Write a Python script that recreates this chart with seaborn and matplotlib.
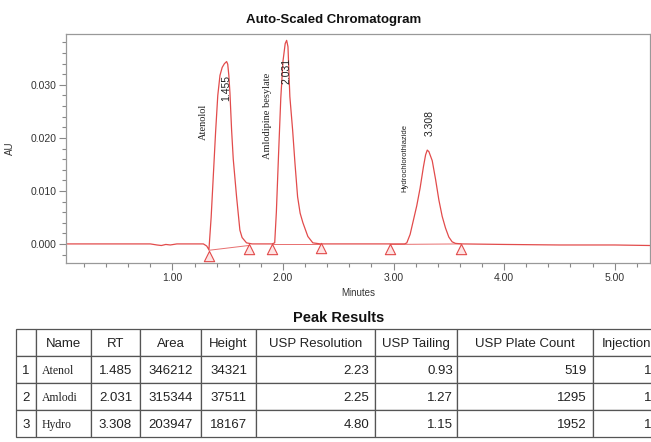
import matplotlib
matplotlib.use('Agg')
import pandas as pd
import matplotlib.pyplot as plt
import seaborn as sns
from matplotlib.ticker import MultipleLocator, FormatStrFormatter

# chromatogram trace (minutes, AU)
time_min = [0.04, 0.30, 0.60, 0.80, 0.86, 0.90, 0.94, 0.98, 1.04, 1.20, 1.28, 1.31, 1.33,
            1.35, 1.37, 1.39, 1.41, 1.43, 1.45, 1.47, 1.49, 1.50, 1.51, 1.52, 1.535, 1.55,
            1.58, 1.61, 1.63, 1.67, 1.72, 1.80, 1.90, 1.925, 1.94, 1.96, 1.98, 2.00, 2.02,
            2.033, 2.045, 2.062, 2.087, 2.108, 2.132, 2.155, 2.18, 2.225, 2.27, 2.34, 2.60,
            2.90, 3.10, 3.12, 3.15, 3.18, 3.21, 3.24, 3.27, 3.29, 3.305, 3.32, 3.35, 3.38,
            3.41, 3.44, 3.47, 3.50, 3.53, 3.56, 3.62, 4.00, 4.50, 5.00, 5.32]
au = [0.0, 0.0, 0.0, 0.0, -0.0002, -0.0003, -0.0001, -0.0002, 0.0, 0.0, 0.0, -0.0004, -0.0011,
      0.005, 0.013, 0.021, 0.028, 0.0318, 0.0333, 0.0340, 0.0344, 0.0339, 0.0318, 0.0285,
      0.0215, 0.0160, 0.0089, 0.0026, 0.0012, 0.0002, 0.0, 0.0, 0.0, 0.0002, 0.006, 0.017,
      0.0275, 0.0345, 0.0378, 0.0384, 0.0372, 0.0278, 0.0215, 0.0153, 0.0089, 0.0058,
      0.0040, 0.0014, 0.0002, 0.0, 0.0, 0.0, 0.0, 0.0002, 0.0018, 0.0045, 0.0072, 0.0105,
      0.0145, 0.0168, 0.0177, 0.0174, 0.0157, 0.0122, 0.0083, 0.0052, 0.0030, 0.0013,
      0.0004, 0.0001, 0.0, -0.0001, -0.0002, -0.0002, -0.0003]

# integration start / end markers
mark_t = [1.33, 1.69, 1.90, 2.34, 2.97, 3.61]
mark_au = [-0.0023, -0.0010, -0.0010, -0.0008, -0.0009, -0.0009]

# integration baselines per peak
base_t0 = [1.33, 1.90, 2.97]
base_au0 = [-0.0012, 0.0, -0.0001]
base_t1 = [1.69, 2.34, 3.61]
base_au1 = [-0.0003, 0.0, 0.0]

peak_names = ['Atenolol', 'Amlodipine besylate', 'Hydrochlorothiazide']
peak_rt = ['1.455', '2.031', '3.308']

# peak results table
tbl_names = ['Atenol', 'Amlodi', 'Hydro']
tbl_rt = ['1.485', '2.031', '3.308']
tbl_area = [346212, 315344, 203947]
tbl_height = [34321, 37511, 18167]
tbl_res = [2.23, 2.25, 4.80]
tbl_tail = [0.93, 1.27, 1.15]
tbl_plates = [519, 1295, 1952]
tbl_inj = [1, 1, 1]

sns.set_theme(style='white')
plt.rcParams['font.family'] = ['Liberation Sans', 'DejaVu Sans']
serif = ['Liberation Serif', 'DejaVu Serif']

W, H = 651, 442
fig = plt.figure(figsize=(W / 100, H / 100), dpi=100)
ax = fig.add_axes([66 / W, 1 - 263 / H, (650 - 66) / W, (263 - 34) / H])

red = '#e24b4b'
trace = pd.DataFrame({'Minutes': time_min, 'AU': au})
sns.lineplot(data=trace, x='Minutes', y='AU', ax=ax, color=red, lw=0.9,
             estimator=None, sort=False)

for t0, a0, t1, a1 in zip(base_t0, base_au0, base_t1, base_au1):
    ax.plot([t0, t1], [a0, a1], color=red, lw=0.7, alpha=0.8)

sns.scatterplot(x=mark_t, y=mark_au, ax=ax, marker='^', s=55, color='#fde4e4',
                edgecolor=red, linewidth=0.8, zorder=3)

# peak labels (layout positions)
name_xy = [(1.276, 0.0230, 7.5), (1.863, 0.0242, 7.5), (3.102, 0.0162, 5.5)]
rt_xy = [(1.49, 0.0294), (2.035, 0.0326), (3.33, 0.0228)]
for name, (x, y, fs) in zip(peak_names, name_xy):
    fam = serif if name != 'Hydrochlorothiazide' else ['Liberation Sans', 'DejaVu Sans']
    ax.text(x, y, name, rotation=90, ha='center', va='center', fontsize=fs,
            family=fam, color='#222')
for lab, (x, y) in zip(peak_rt, rt_xy):
    ax.text(x, y, lab, rotation=90, ha='center', va='center', fontsize=7.5, color='#222')

ax.set_xlim(0.037, 5.32)
ax.set_ylim(-0.0036, 0.0396)
ax.xaxis.set_major_locator(MultipleLocator(1))
ax.xaxis.set_minor_locator(MultipleLocator(0.2))
ax.xaxis.set_major_formatter(FormatStrFormatter('%.2f'))
ax.yaxis.set_major_locator(MultipleLocator(0.01))
ax.yaxis.set_minor_locator(MultipleLocator(0.002))
ax.yaxis.set_major_formatter(FormatStrFormatter('%.3f'))
ax.tick_params(which='both', bottom=True, left=True, direction='out', color='#888',
               labelsize=7.5, labelcolor='#333', width=0.8)
ax.tick_params(which='major', length=5, pad=2)
ax.tick_params(which='minor', length=3)
for sp in ax.spines.values():
    sp.set_color('#999')
    sp.set_linewidth(0.9)
ax.set_xlabel('Minutes', fontsize=7, color='#333', labelpad=4)
ax.set_ylabel('AU', fontsize=7, color='#333')
ax.yaxis.set_label_coords(-0.087, 0.5)

fig.text(334 / W, 1 - 20 / H, 'Auto-Scaled Chromatogram', ha='center', va='center',
         fontsize=9.5, weight='bold', color='#111')
fig.text(339 / W, 1 - 318 / H, 'Peak Results', ha='center', va='center',
         fontsize=10.5, weight='bold', color='#111')

df = pd.DataFrame({
    '': ['1', '2', '3'],
    'Name': tbl_names,
    'RT': tbl_rt,
    'Area': [str(v) for v in tbl_area],
    'Height': [str(v) for v in tbl_height],
    'USP Resolution': [f'{v:.2f}' for v in tbl_res],
    'USP Tailing': [f'{v:.2f}' for v in tbl_tail],
    'USP Plate Count': [str(v) for v in tbl_plates],
    'Injection': [str(v) for v in tbl_inj],
})

tax = fig.add_axes([0, 0, 1, 1])
tax.set_axis_off()
col_px = [20, 55, 49, 61, 55, 119, 82, 136, 66]
tbl = tax.table(cellText=df.values.tolist(), colLabels=list(df.columns),
                colWidths=[c / W for c in col_px],
                bbox=[16 / W, 1 - 437 / H, sum(col_px) / W, 108 / H])
tbl.auto_set_font_size(False)
tbl.set_fontsize(9.5)

align = ['left', 'left', 'center', 'center', 'center', 'right', 'right', 'right', 'right']
pads = [0.3, 0.11, 0.1, 0.1, 0.1, 0.05, 0.05, 0.045, 0.12]
for (r, c), cell in tbl.get_celld().items():
    cell.set_edgecolor('#555')
    cell.set_linewidth(0.9)
    txt = cell.get_text()
    txt.set_color('#222')
    txt.set_va('center_baseline')
    if r == 0:
        txt.set_ha('center')
    else:
        txt.set_ha(align[c])
        cell.PAD = pads[c]
        if c == 1:
            txt.set_fontfamily(serif)
            txt.set_fontsize(8.5)

fig.savefig('out.png', dpi=100)
